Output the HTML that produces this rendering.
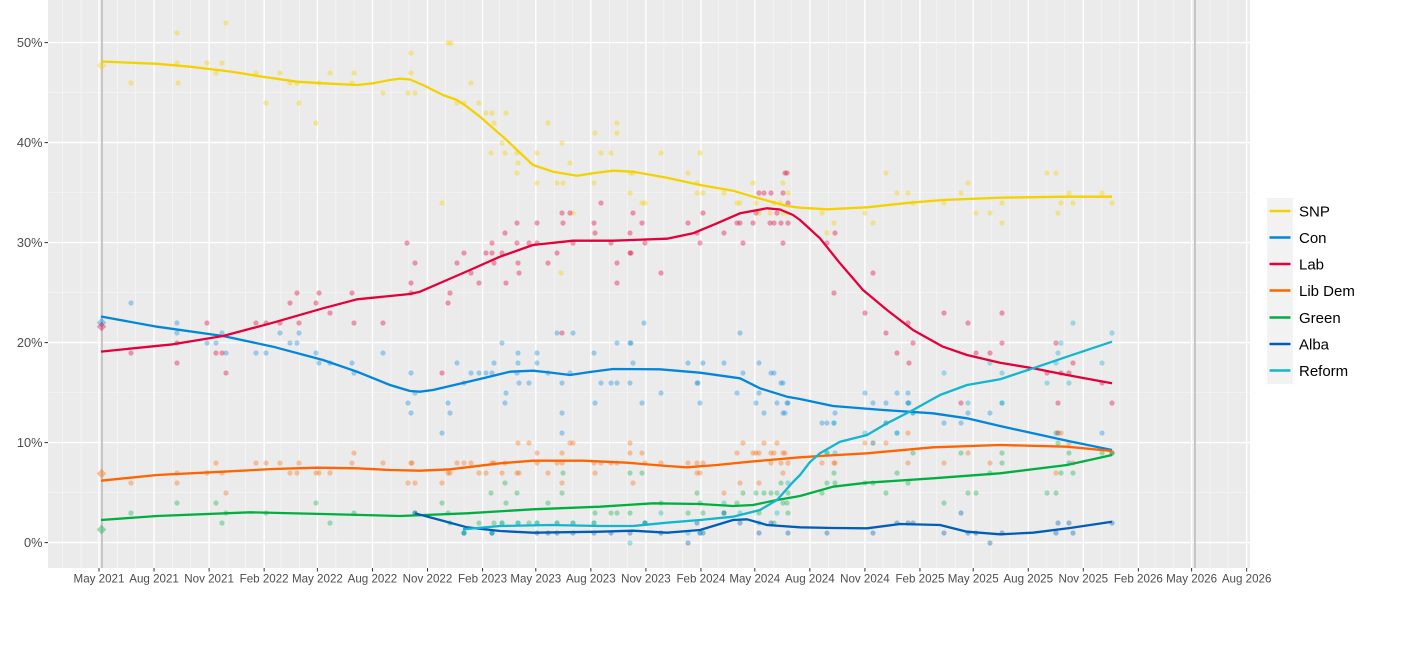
<!DOCTYPE html>
<html><head><meta charset="utf-8"><style>
html,body{margin:0;padding:0;background:#fff;}
svg{display:block;font-family:"Liberation Sans",Arial,sans-serif;}
</style></head><body>
<svg width="1417" height="655" viewBox="0 0 1417 655" xmlns="http://www.w3.org/2000/svg">
<rect x="0" y="0" width="1417" height="655" fill="#fff"/>
<rect x="48" y="0" width="1202" height="568" fill="#EBEBEB"/>
<!-- minor grid -->
<path fill="none" stroke="#F5F5F5" stroke-width="0.8" d="M48 492.6H1250M48 392.6H1250M48 292.6H1250M48 192.6H1250M48 92.6H1250
M62.5 0V568M81.05 0V568M117.55 0V568M135.5 0V568M172.6 0V568M190.55 0V568M227.05 0V568M245.6 0V568M280.9 0V568M299.45 0V568M335.95 0V568M353.9 0V568M391 0V568M408.95 0V568M445.45 0V568M464 0V568M499.3 0V568M517.85 0V568M554.35 0V568M572.3 0V568M609.4 0V568M627.35 0V568M663.85 0V568M682.4 0V568M718.3 0V568M736.85 0V568M773.35 0V568M791.3 0V568M828.4 0V568M846.35 0V568M882.85 0V568M901.4 0V568M936.7 0V568M955.25 0V568M991.75 0V568M1009.7 0V568M1046.8 0V568M1064.75 0V568M1101.25 0V568M1119.8 0V568M1155.1 0V568M1173.65 0V568M1210.15 0V568M1228.1 0V568"/>
<!-- major grid -->
<path fill="none" stroke="#FFFFFF" stroke-width="1.4" d="M48 542.6H1250M48 442.6H1250M48 342.6H1250M48 242.6H1250M48 142.6H1250M48 42.6H1250
M99 0V568M154.05 0V568M209.1 0V568M264.15 0V568M317.4 0V568M372.45 0V568M427.5 0V568M482.55 0V568M535.8 0V568M590.85 0V568M645.9 0V568M700.95 0V568M754.8 0V568M809.85 0V568M864.9 0V568M919.95 0V568M973.2 0V568M1028.25 0V568M1083.3 0V568M1138.35 0V568M1191.6 0V568M1246.65 0V568"/>
<!-- election lines -->
<path stroke="#C6C6C6" stroke-width="2" d="M102 0V568M1195 0V568"/>

<!-- SNP points -->
<g fill="#F4D200" fill-opacity="0.4">
<circle cx="177" cy="33" r="2.6"/><circle cx="226" cy="23" r="2.6"/><circle cx="177" cy="63" r="2.6"/><circle cx="178" cy="83" r="2.6"/><circle cx="131" cy="83" r="2.6"/><circle cx="207" cy="63" r="2.6"/><circle cx="222" cy="63" r="2.6"/><circle cx="216" cy="73" r="2.6"/><circle cx="256" cy="73" r="2.6"/><circle cx="280" cy="73" r="2.6"/><circle cx="266" cy="103" r="2.6"/><circle cx="290" cy="83" r="2.6"/><circle cx="297" cy="83" r="2.6"/><circle cx="299" cy="103" r="2.6"/><circle cx="316" cy="123" r="2.6"/><circle cx="319" cy="83" r="2.6"/><circle cx="330" cy="73" r="2.6"/><circle cx="352" cy="83" r="2.6"/><circle cx="354" cy="73" r="2.6"/><circle cx="383" cy="93" r="2.6"/><circle cx="408" cy="93" r="2.6"/><circle cx="411" cy="73" r="2.6"/><circle cx="411" cy="53" r="2.6"/><circle cx="415" cy="93" r="2.6"/><circle cx="442" cy="203" r="2.6"/><circle cx="448" cy="43" r="2.6"/><circle cx="451" cy="43" r="2.6"/><circle cx="457" cy="103" r="2.6"/><circle cx="464" cy="103" r="2.6"/><circle cx="471" cy="83" r="2.6"/><circle cx="479" cy="103" r="2.6"/><circle cx="486" cy="113" r="2.6"/><circle cx="492" cy="113" r="2.6"/><circle cx="494" cy="123" r="2.6"/><circle cx="506" cy="113" r="2.6"/><circle cx="502" cy="143" r="2.6"/><circle cx="491" cy="153" r="2.6"/><circle cx="505" cy="153" r="2.6"/><circle cx="517" cy="173" r="2.6"/><circle cx="518" cy="163" r="2.6"/><circle cx="517" cy="153" r="2.6"/><circle cx="537" cy="153" r="2.6"/><circle cx="537" cy="183" r="2.6"/><circle cx="548" cy="123" r="2.6"/><circle cx="557" cy="183" r="2.6"/><circle cx="562" cy="143" r="2.6"/><circle cx="563" cy="183" r="2.6"/><circle cx="570" cy="163" r="2.6"/><circle cx="573" cy="213" r="2.6"/><circle cx="561" cy="273" r="2.6"/><circle cx="595" cy="133" r="2.6"/><circle cx="594" cy="183" r="2.6"/><circle cx="601" cy="153" r="2.6"/><circle cx="611" cy="153" r="2.6"/><circle cx="617" cy="133" r="2.6"/><circle cx="617" cy="123" r="2.6"/><circle cx="630" cy="193" r="2.6"/><circle cx="630" cy="173" r="2.6"/><circle cx="633" cy="173" r="2.6"/><circle cx="642" cy="203" r="2.6"/><circle cx="645" cy="203" r="2.6"/><circle cx="661" cy="153" r="2.6"/><circle cx="688" cy="173" r="2.6"/><circle cx="697" cy="183" r="2.6"/><circle cx="697" cy="193" r="2.6"/><circle cx="700" cy="153" r="2.6"/><circle cx="703" cy="193" r="2.6"/><circle cx="724" cy="193" r="2.6"/><circle cx="737" cy="203" r="2.6"/><circle cx="740" cy="203" r="2.6"/><circle cx="753" cy="183" r="2.6"/><circle cx="756" cy="203" r="2.6"/><circle cx="759" cy="213" r="2.6"/><circle cx="770" cy="213" r="2.6"/><circle cx="774" cy="203" r="2.6"/><circle cx="783" cy="183" r="2.6"/><circle cx="780" cy="203" r="2.6"/><circle cx="783" cy="213" r="2.6"/><circle cx="787" cy="213" r="2.6"/><circle cx="788" cy="193" r="2.6"/><circle cx="886" cy="173" r="2.6"/><circle cx="897" cy="193" r="2.6"/><circle cx="908" cy="193" r="2.6"/><circle cx="822" cy="213" r="2.6"/><circle cx="827" cy="233" r="2.6"/><circle cx="834" cy="223" r="2.6"/><circle cx="865" cy="213" r="2.6"/><circle cx="873" cy="223" r="2.6"/><circle cx="913" cy="203" r="2.6"/><circle cx="944" cy="203" r="2.6"/><circle cx="961" cy="193" r="2.6"/><circle cx="968" cy="183" r="2.6"/><circle cx="976" cy="213" r="2.6"/><circle cx="990" cy="213" r="2.6"/><circle cx="1002" cy="203" r="2.6"/><circle cx="1002" cy="223" r="2.6"/><circle cx="1047" cy="173" r="2.6"/><circle cx="1056" cy="173" r="2.6"/><circle cx="1069" cy="193" r="2.6"/><circle cx="1061" cy="203" r="2.6"/><circle cx="1058" cy="213" r="2.6"/><circle cx="1073" cy="203" r="2.6"/><circle cx="1102" cy="193" r="2.6"/><circle cx="1112" cy="203" r="2.6"/>
</g>
<!-- Lab points -->
<g fill="#E4003B" fill-opacity="0.38">
<circle cx="131" cy="353" r="2.6"/><circle cx="177" cy="363" r="2.6"/><circle cx="177" cy="343" r="2.6"/><circle cx="207" cy="323" r="2.6"/><circle cx="216" cy="353" r="2.6"/><circle cx="222" cy="353" r="2.6"/><circle cx="226" cy="373" r="2.6"/><circle cx="256" cy="323" r="2.6"/><circle cx="266" cy="323" r="2.6"/><circle cx="280" cy="323" r="2.6"/><circle cx="290" cy="303" r="2.6"/><circle cx="297" cy="293" r="2.6"/><circle cx="299" cy="323" r="2.6"/><circle cx="316" cy="303" r="2.6"/><circle cx="319" cy="293" r="2.6"/><circle cx="330" cy="313" r="2.6"/><circle cx="352" cy="293" r="2.6"/><circle cx="354" cy="323" r="2.6"/><circle cx="383" cy="323" r="2.6"/><circle cx="411" cy="293" r="2.6"/><circle cx="411" cy="283" r="2.6"/><circle cx="407" cy="243" r="2.6"/><circle cx="415" cy="263" r="2.6"/><circle cx="457" cy="263" r="2.6"/><circle cx="464" cy="253" r="2.6"/><circle cx="471" cy="273" r="2.6"/><circle cx="486" cy="253" r="2.6"/><circle cx="492" cy="243" r="2.6"/><circle cx="492" cy="253" r="2.6"/><circle cx="494" cy="263" r="2.6"/><circle cx="502" cy="253" r="2.6"/><circle cx="505" cy="233" r="2.6"/><circle cx="517" cy="223" r="2.6"/><circle cx="517" cy="243" r="2.6"/><circle cx="518" cy="263" r="2.6"/><circle cx="519" cy="273" r="2.6"/><circle cx="529" cy="243" r="2.6"/><circle cx="537" cy="223" r="2.6"/><circle cx="537" cy="243" r="2.6"/><circle cx="548" cy="263" r="2.6"/><circle cx="557" cy="253" r="2.6"/><circle cx="562" cy="213" r="2.6"/><circle cx="563" cy="223" r="2.6"/><circle cx="570" cy="213" r="2.6"/><circle cx="573" cy="243" r="2.6"/><circle cx="594" cy="223" r="2.6"/><circle cx="595" cy="233" r="2.6"/><circle cx="601" cy="203" r="2.6"/><circle cx="611" cy="243" r="2.6"/><circle cx="617" cy="263" r="2.6"/><circle cx="630" cy="233" r="2.6"/><circle cx="630" cy="253" r="2.6"/><circle cx="631" cy="253" r="2.6"/><circle cx="633" cy="213" r="2.6"/><circle cx="642" cy="223" r="2.6"/><circle cx="645" cy="243" r="2.6"/><circle cx="661" cy="273" r="2.6"/><circle cx="688" cy="223" r="2.6"/><circle cx="697" cy="233" r="2.6"/><circle cx="700" cy="243" r="2.6"/><circle cx="703" cy="213" r="2.6"/><circle cx="724" cy="233" r="2.6"/><circle cx="737" cy="223" r="2.6"/><circle cx="740" cy="223" r="2.6"/><circle cx="743" cy="243" r="2.6"/><circle cx="753" cy="223" r="2.6"/><circle cx="756" cy="213" r="2.6"/><circle cx="759" cy="193" r="2.6"/><circle cx="764" cy="193" r="2.6"/><circle cx="771" cy="193" r="2.6"/><circle cx="770" cy="223" r="2.6"/><circle cx="774" cy="223" r="2.6"/><circle cx="777" cy="213" r="2.6"/><circle cx="781" cy="223" r="2.6"/><circle cx="783" cy="243" r="2.6"/><circle cx="785" cy="173" r="2.6"/><circle cx="787" cy="173" r="2.6"/><circle cx="783" cy="193" r="2.6"/><circle cx="788" cy="203" r="2.6"/><circle cx="788" cy="223" r="2.6"/><circle cx="442" cy="373" r="2.6"/><circle cx="448" cy="303" r="2.6"/><circle cx="450" cy="293" r="2.6"/><circle cx="479" cy="283" r="2.6"/><circle cx="506" cy="283" r="2.6"/><circle cx="562" cy="333" r="2.6"/><circle cx="617" cy="283" r="2.6"/><circle cx="827" cy="243" r="2.6"/><circle cx="835" cy="233" r="2.6"/><circle cx="834" cy="293" r="2.6"/><circle cx="873" cy="273" r="2.6"/><circle cx="865" cy="313" r="2.6"/><circle cx="886" cy="333" r="2.6"/><circle cx="897" cy="353" r="2.6"/><circle cx="908" cy="323" r="2.6"/><circle cx="909" cy="363" r="2.6"/><circle cx="913" cy="343" r="2.6"/><circle cx="944" cy="313" r="2.6"/><circle cx="961" cy="403" r="2.6"/><circle cx="968" cy="323" r="2.6"/><circle cx="976" cy="353" r="2.6"/><circle cx="990" cy="353" r="2.6"/><circle cx="1002" cy="313" r="2.6"/><circle cx="1002" cy="343" r="2.6"/><circle cx="1047" cy="373" r="2.6"/><circle cx="1056" cy="343" r="2.6"/><circle cx="1058" cy="403" r="2.6"/><circle cx="1061" cy="373" r="2.6"/><circle cx="1069" cy="373" r="2.6"/><circle cx="1073" cy="363" r="2.6"/><circle cx="1102" cy="383" r="2.6"/><circle cx="1112" cy="403" r="2.6"/>
</g>
<!-- Con points -->
<g fill="#0087DC" fill-opacity="0.35">
<circle cx="131" cy="303" r="2.6"/><circle cx="177" cy="323" r="2.6"/><circle cx="177" cy="333" r="2.6"/><circle cx="207" cy="343" r="2.6"/><circle cx="216" cy="343" r="2.6"/><circle cx="222" cy="333" r="2.6"/><circle cx="226" cy="353" r="2.6"/><circle cx="256" cy="353" r="2.6"/><circle cx="266" cy="353" r="2.6"/><circle cx="280" cy="333" r="2.6"/><circle cx="290" cy="343" r="2.6"/><circle cx="297" cy="343" r="2.6"/><circle cx="299" cy="333" r="2.6"/><circle cx="316" cy="353" r="2.6"/><circle cx="319" cy="363" r="2.6"/><circle cx="330" cy="363" r="2.6"/><circle cx="352" cy="363" r="2.6"/><circle cx="354" cy="373" r="2.6"/><circle cx="383" cy="353" r="2.6"/><circle cx="408" cy="403" r="2.6"/><circle cx="411" cy="413" r="2.6"/><circle cx="411" cy="373" r="2.6"/><circle cx="415" cy="393" r="2.6"/><circle cx="442" cy="433" r="2.6"/><circle cx="448" cy="403" r="2.6"/><circle cx="450" cy="413" r="2.6"/><circle cx="457" cy="363" r="2.6"/><circle cx="464" cy="383" r="2.6"/><circle cx="471" cy="373" r="2.6"/><circle cx="479" cy="373" r="2.6"/><circle cx="486" cy="373" r="2.6"/><circle cx="492" cy="373" r="2.6"/><circle cx="494" cy="363" r="2.6"/><circle cx="502" cy="343" r="2.6"/><circle cx="505" cy="403" r="2.6"/><circle cx="506" cy="393" r="2.6"/><circle cx="517" cy="373" r="2.6"/><circle cx="518" cy="353" r="2.6"/><circle cx="518" cy="363" r="2.6"/><circle cx="519" cy="383" r="2.6"/><circle cx="529" cy="383" r="2.6"/><circle cx="537" cy="353" r="2.6"/><circle cx="537" cy="363" r="2.6"/><circle cx="548" cy="373" r="2.6"/><circle cx="557" cy="333" r="2.6"/><circle cx="562" cy="383" r="2.6"/><circle cx="562" cy="413" r="2.6"/><circle cx="562" cy="433" r="2.6"/><circle cx="570" cy="373" r="2.6"/><circle cx="573" cy="333" r="2.6"/><circle cx="594" cy="353" r="2.6"/><circle cx="595" cy="403" r="2.6"/><circle cx="601" cy="383" r="2.6"/><circle cx="611" cy="383" r="2.6"/><circle cx="617" cy="383" r="2.6"/><circle cx="617" cy="343" r="2.6"/><circle cx="630" cy="343" r="2.6"/><circle cx="631" cy="343" r="2.6"/><circle cx="630" cy="383" r="2.6"/><circle cx="633" cy="363" r="2.6"/><circle cx="642" cy="403" r="2.6"/><circle cx="644" cy="323" r="2.6"/><circle cx="661" cy="393" r="2.6"/><circle cx="688" cy="363" r="2.6"/><circle cx="697" cy="383" r="2.6"/><circle cx="698" cy="383" r="2.6"/><circle cx="700" cy="403" r="2.6"/><circle cx="703" cy="363" r="2.6"/><circle cx="724" cy="363" r="2.6"/><circle cx="737" cy="393" r="2.6"/><circle cx="740" cy="333" r="2.6"/><circle cx="743" cy="373" r="2.6"/><circle cx="756" cy="403" r="2.6"/><circle cx="759" cy="363" r="2.6"/><circle cx="759" cy="393" r="2.6"/><circle cx="764" cy="413" r="2.6"/><circle cx="771" cy="373" r="2.6"/><circle cx="774" cy="373" r="2.6"/><circle cx="777" cy="403" r="2.6"/><circle cx="781" cy="383" r="2.6"/><circle cx="783" cy="383" r="2.6"/><circle cx="783" cy="413" r="2.6"/><circle cx="785" cy="413" r="2.6"/><circle cx="787" cy="403" r="2.6"/><circle cx="788" cy="403" r="2.6"/><circle cx="822" cy="423" r="2.6"/><circle cx="827" cy="423" r="2.6"/><circle cx="834" cy="423" r="2.6"/><circle cx="835" cy="413" r="2.6"/><circle cx="865" cy="393" r="2.6"/><circle cx="873" cy="403" r="2.6"/><circle cx="886" cy="403" r="2.6"/><circle cx="886" cy="423" r="2.6"/><circle cx="897" cy="393" r="2.6"/><circle cx="897" cy="433" r="2.6"/><circle cx="908" cy="393" r="2.6"/><circle cx="908" cy="403" r="2.6"/><circle cx="909" cy="403" r="2.6"/><circle cx="913" cy="413" r="2.6"/><circle cx="944" cy="423" r="2.6"/><circle cx="961" cy="423" r="2.6"/><circle cx="968" cy="413" r="2.6"/><circle cx="990" cy="413" r="2.6"/><circle cx="1002" cy="403" r="2.6"/><circle cx="1056" cy="433" r="2.6"/><circle cx="1058" cy="433" r="2.6"/><circle cx="1069" cy="463" r="2.6"/><circle cx="1102" cy="433" r="2.6"/><circle cx="1112" cy="453" r="2.6"/>
</g>
<!-- Lib Dem points -->
<g fill="#FF6400" fill-opacity="0.35">
<circle cx="131" cy="483" r="2.6"/><circle cx="177" cy="473" r="2.6"/><circle cx="177" cy="483" r="2.6"/><circle cx="207" cy="473" r="2.6"/><circle cx="216" cy="463" r="2.6"/><circle cx="222" cy="473" r="2.6"/><circle cx="226" cy="493" r="2.6"/><circle cx="256" cy="463" r="2.6"/><circle cx="266" cy="463" r="2.6"/><circle cx="280" cy="463" r="2.6"/><circle cx="290" cy="473" r="2.6"/><circle cx="297" cy="473" r="2.6"/><circle cx="299" cy="463" r="2.6"/><circle cx="316" cy="473" r="2.6"/><circle cx="319" cy="473" r="2.6"/><circle cx="330" cy="473" r="2.6"/><circle cx="352" cy="463" r="2.6"/><circle cx="354" cy="453" r="2.6"/><circle cx="383" cy="463" r="2.6"/><circle cx="408" cy="483" r="2.6"/><circle cx="411" cy="463" r="2.6"/><circle cx="412" cy="463" r="2.6"/><circle cx="415" cy="483" r="2.6"/><circle cx="442" cy="483" r="2.6"/><circle cx="448" cy="473" r="2.6"/><circle cx="450" cy="473" r="2.6"/><circle cx="457" cy="463" r="2.6"/><circle cx="464" cy="463" r="2.6"/><circle cx="471" cy="463" r="2.6"/><circle cx="479" cy="473" r="2.6"/><circle cx="486" cy="473" r="2.6"/><circle cx="492" cy="463" r="2.6"/><circle cx="494" cy="463" r="2.6"/><circle cx="502" cy="473" r="2.6"/><circle cx="505" cy="463" r="2.6"/><circle cx="517" cy="473" r="2.6"/><circle cx="518" cy="443" r="2.6"/><circle cx="519" cy="473" r="2.6"/><circle cx="529" cy="443" r="2.6"/><circle cx="537" cy="463" r="2.6"/><circle cx="537" cy="453" r="2.6"/><circle cx="548" cy="473" r="2.6"/><circle cx="557" cy="463" r="2.6"/><circle cx="562" cy="463" r="2.6"/><circle cx="562" cy="453" r="2.6"/><circle cx="562" cy="483" r="2.6"/><circle cx="570" cy="443" r="2.6"/><circle cx="573" cy="443" r="2.6"/><circle cx="594" cy="463" r="2.6"/><circle cx="595" cy="473" r="2.6"/><circle cx="601" cy="463" r="2.6"/><circle cx="611" cy="463" r="2.6"/><circle cx="617" cy="463" r="2.6"/><circle cx="630" cy="443" r="2.6"/><circle cx="630" cy="453" r="2.6"/><circle cx="633" cy="483" r="2.6"/><circle cx="642" cy="453" r="2.6"/><circle cx="645" cy="463" r="2.6"/><circle cx="661" cy="463" r="2.6"/><circle cx="688" cy="463" r="2.6"/><circle cx="697" cy="463" r="2.6"/><circle cx="697" cy="473" r="2.6"/><circle cx="700" cy="473" r="2.6"/><circle cx="703" cy="463" r="2.6"/><circle cx="724" cy="493" r="2.6"/><circle cx="737" cy="453" r="2.6"/><circle cx="740" cy="483" r="2.6"/><circle cx="743" cy="443" r="2.6"/><circle cx="753" cy="453" r="2.6"/><circle cx="756" cy="453" r="2.6"/><circle cx="759" cy="453" r="2.6"/><circle cx="759" cy="483" r="2.6"/><circle cx="764" cy="443" r="2.6"/><circle cx="771" cy="453" r="2.6"/><circle cx="771" cy="463" r="2.6"/><circle cx="774" cy="453" r="2.6"/><circle cx="777" cy="443" r="2.6"/><circle cx="781" cy="463" r="2.6"/><circle cx="783" cy="453" r="2.6"/><circle cx="783" cy="473" r="2.6"/><circle cx="785" cy="453" r="2.6"/><circle cx="788" cy="463" r="2.6"/><circle cx="822" cy="463" r="2.6"/><circle cx="834" cy="463" r="2.6"/><circle cx="835" cy="463" r="2.6"/><circle cx="865" cy="443" r="2.6"/><circle cx="873" cy="443" r="2.6"/><circle cx="886" cy="443" r="2.6"/><circle cx="908" cy="433" r="2.6"/><circle cx="908" cy="463" r="2.6"/><circle cx="944" cy="463" r="2.6"/><circle cx="968" cy="453" r="2.6"/><circle cx="990" cy="463" r="2.6"/><circle cx="1056" cy="473" r="2.6"/><circle cx="1058" cy="433" r="2.6"/><circle cx="1061" cy="433" r="2.6"/><circle cx="1069" cy="443" r="2.6"/><circle cx="1073" cy="463" r="2.6"/><circle cx="1112" cy="453" r="2.6"/>
</g>
<!-- Green points -->
<g fill="#00AF41" fill-opacity="0.35">
<circle cx="131" cy="513" r="2.6"/><circle cx="177" cy="503" r="2.6"/><circle cx="216" cy="503" r="2.6"/><circle cx="222" cy="523" r="2.6"/><circle cx="226" cy="513" r="2.6"/><circle cx="266" cy="513" r="2.6"/><circle cx="316" cy="503" r="2.6"/><circle cx="330" cy="523" r="2.6"/><circle cx="354" cy="513" r="2.6"/><circle cx="415" cy="513" r="2.6"/><circle cx="442" cy="503" r="2.6"/><circle cx="448" cy="513" r="2.6"/><circle cx="450" cy="523" r="2.6"/><circle cx="464" cy="533" r="2.6"/><circle cx="479" cy="523" r="2.6"/><circle cx="491" cy="493" r="2.6"/><circle cx="492" cy="533" r="2.6"/><circle cx="494" cy="523" r="2.6"/><circle cx="502" cy="523" r="2.6"/><circle cx="505" cy="483" r="2.6"/><circle cx="506" cy="503" r="2.6"/><circle cx="517" cy="493" r="2.6"/><circle cx="518" cy="523" r="2.6"/><circle cx="529" cy="523" r="2.6"/><circle cx="537" cy="523" r="2.6"/><circle cx="548" cy="503" r="2.6"/><circle cx="557" cy="523" r="2.6"/><circle cx="562" cy="493" r="2.6"/><circle cx="563" cy="473" r="2.6"/><circle cx="573" cy="523" r="2.6"/><circle cx="594" cy="523" r="2.6"/><circle cx="595" cy="513" r="2.6"/><circle cx="611" cy="513" r="2.6"/><circle cx="617" cy="513" r="2.6"/><circle cx="630" cy="473" r="2.6"/><circle cx="630" cy="513" r="2.6"/><circle cx="642" cy="473" r="2.6"/><circle cx="645" cy="523" r="2.6"/><circle cx="661" cy="503" r="2.6"/><circle cx="688" cy="513" r="2.6"/><circle cx="697" cy="493" r="2.6"/><circle cx="700" cy="503" r="2.6"/><circle cx="703" cy="513" r="2.6"/><circle cx="724" cy="513" r="2.6"/><circle cx="737" cy="503" r="2.6"/><circle cx="743" cy="493" r="2.6"/><circle cx="756" cy="493" r="2.6"/><circle cx="759" cy="513" r="2.6"/><circle cx="764" cy="493" r="2.6"/><circle cx="771" cy="493" r="2.6"/><circle cx="774" cy="523" r="2.6"/><circle cx="777" cy="493" r="2.6"/><circle cx="781" cy="483" r="2.6"/><circle cx="783" cy="503" r="2.6"/><circle cx="787" cy="503" r="2.6"/><circle cx="788" cy="513" r="2.6"/><circle cx="788" cy="493" r="2.6"/><circle cx="822" cy="493" r="2.6"/><circle cx="827" cy="483" r="2.6"/><circle cx="827" cy="453" r="2.6"/><circle cx="834" cy="473" r="2.6"/><circle cx="835" cy="483" r="2.6"/><circle cx="865" cy="483" r="2.6"/><circle cx="873" cy="483" r="2.6"/><circle cx="886" cy="493" r="2.6"/><circle cx="897" cy="473" r="2.6"/><circle cx="908" cy="483" r="2.6"/><circle cx="913" cy="453" r="2.6"/><circle cx="944" cy="503" r="2.6"/><circle cx="961" cy="453" r="2.6"/><circle cx="968" cy="493" r="2.6"/><circle cx="976" cy="493" r="2.6"/><circle cx="990" cy="473" r="2.6"/><circle cx="1002" cy="453" r="2.6"/><circle cx="1002" cy="463" r="2.6"/><circle cx="1047" cy="493" r="2.6"/><circle cx="1056" cy="493" r="2.6"/><circle cx="1058" cy="443" r="2.6"/><circle cx="1061" cy="473" r="2.6"/><circle cx="1069" cy="453" r="2.6"/><circle cx="1073" cy="473" r="2.6"/><circle cx="1102" cy="453" r="2.6"/><circle cx="1112" cy="453" r="2.6"/>
</g>
<!-- Alba points -->
<g fill="#005EB8" fill-opacity="0.38">
<circle cx="415" cy="513" r="2.6"/><circle cx="464" cy="533" r="2.6"/><circle cx="492" cy="533" r="2.6"/><circle cx="537" cy="533" r="2.6"/><circle cx="548" cy="533" r="2.6"/><circle cx="557" cy="533" r="2.6"/><circle cx="573" cy="533" r="2.6"/><circle cx="594" cy="533" r="2.6"/><circle cx="611" cy="533" r="2.6"/><circle cx="630" cy="533" r="2.6"/><circle cx="645" cy="523" r="2.6"/><circle cx="661" cy="533" r="2.6"/><circle cx="688" cy="543" r="2.6"/><circle cx="697" cy="523" r="2.6"/><circle cx="700" cy="533" r="2.6"/><circle cx="703" cy="533" r="2.6"/><circle cx="724" cy="513" r="2.6"/><circle cx="740" cy="523" r="2.6"/><circle cx="759" cy="533" r="2.6"/><circle cx="771" cy="523" r="2.6"/><circle cx="788" cy="533" r="2.6"/><circle cx="827" cy="533" r="2.6"/><circle cx="873" cy="533" r="2.6"/><circle cx="897" cy="523" r="2.6"/><circle cx="908" cy="523" r="2.6"/><circle cx="913" cy="523" r="2.6"/><circle cx="944" cy="533" r="2.6"/><circle cx="961" cy="513" r="2.6"/><circle cx="968" cy="533" r="2.6"/><circle cx="976" cy="533" r="2.6"/><circle cx="990" cy="543" r="2.6"/><circle cx="1002" cy="533" r="2.6"/><circle cx="1056" cy="533" r="2.6"/><circle cx="1058" cy="523" r="2.6"/><circle cx="1069" cy="523" r="2.6"/><circle cx="1073" cy="533" r="2.6"/><circle cx="1112" cy="523" r="2.6"/>
</g>
<!-- Reform points -->
<g fill="#12B6CF" fill-opacity="0.38">
<circle cx="464" cy="533" r="2.6"/><circle cx="492" cy="533" r="2.6"/><circle cx="502" cy="523" r="2.6"/><circle cx="518" cy="523" r="2.6"/><circle cx="537" cy="523" r="2.6"/><circle cx="557" cy="523" r="2.6"/><circle cx="573" cy="523" r="2.6"/><circle cx="594" cy="523" r="2.6"/><circle cx="630" cy="543" r="2.6"/><circle cx="645" cy="523" r="2.6"/><circle cx="661" cy="513" r="2.6"/><circle cx="688" cy="533" r="2.6"/><circle cx="700" cy="533" r="2.6"/><circle cx="724" cy="503" r="2.6"/><circle cx="740" cy="513" r="2.6"/><circle cx="759" cy="523" r="2.6"/><circle cx="777" cy="513" r="2.6"/><circle cx="788" cy="483" r="2.6"/><circle cx="827" cy="453" r="2.6"/><circle cx="835" cy="453" r="2.6"/><circle cx="834" cy="423" r="2.6"/><circle cx="865" cy="433" r="2.6"/><circle cx="873" cy="443" r="2.6"/><circle cx="886" cy="423" r="2.6"/><circle cx="897" cy="433" r="2.6"/><circle cx="908" cy="403" r="2.6"/><circle cx="913" cy="413" r="2.6"/><circle cx="944" cy="373" r="2.6"/><circle cx="968" cy="403" r="2.6"/><circle cx="990" cy="363" r="2.6"/><circle cx="1002" cy="373" r="2.6"/><circle cx="1002" cy="403" r="2.6"/><circle cx="1047" cy="383" r="2.6"/><circle cx="1056" cy="363" r="2.6"/><circle cx="1058" cy="353" r="2.6"/><circle cx="1061" cy="343" r="2.6"/><circle cx="1069" cy="383" r="2.6"/><circle cx="1073" cy="323" r="2.6"/><circle cx="1102" cy="363" r="2.6"/><circle cx="1112" cy="333" r="2.6"/>
</g>
<!-- election diamonds -->
<g fill-opacity="0.4">
<path d="M101.5 60.8 L106.3 65.6 L101.5 70.4 L96.7 65.6Z" fill="#F4D200"/>
<path d="M101.5 317.8 L106.3 322.6 L101.5 327.4 L96.7 322.6Z" fill="#0087DC"/>
<path d="M101.5 321.8 L106.3 326.6 L101.5 331.4 L96.7 326.6Z" fill="#E4003B"/>
<path d="M101.5 468.8 L106.3 473.6 L101.5 478.4 L96.7 473.6Z" fill="#FF6400"/>
<path d="M101.5 524.8 L106.3 529.6 L101.5 534.4 L96.7 529.6Z" fill="#00AF41"/>
</g>
<!-- smoothed lines -->
<g fill="none" stroke-width="2.3" stroke-linejoin="round" stroke-linecap="butt">
<polyline stroke="#F4D200" points="101,61.5 157,63.8 190,66.7 230,71.5 263,76.7 297,81.7 323,83.3 357,85 373,83.3 390,80 400,78.6 410,79.5 423,85 443,95 457,100 467,106.7 480,116.7 497,131.7 503,136.7 517,150 533,165 553,171.7 577,175.7 593,173.3 613,170.7 633,171.7 667,177.7 700,185 733,190.7 753,196.7 787,206 800,207.7 827,209.3 867,207.3 910,202.7 943,200 1000,197.7 1067,196.7 1112,196.7"/>
<polyline stroke="#0087DC" points="101,316.5 157,326.7 223,336 273,346.7 323,360 357,371.7 390,385 410,391 420,391.7 433,390 450,386 483,378.3 510,371.7 533,370.7 550,372.5 570,375 590,372 613,369 660,369.3 700,372.7 740,378.3 760,388.3 787,396.7 800,399 820,403.3 833,406 883,410 933,413.3 967,418.3 1000,426 1033,433.3 1067,440.7 1112,450"/>
<polyline stroke="#E4003B" points="101,351.6 173,344.3 223,336 273,322.7 323,308.3 357,299.3 390,296 410,294 420,291.7 447,280 470,270 500,256.7 533,245 573,240.7 613,240.7 667,238.7 693,233.3 717,223.3 740,213.3 767,208.3 780,209.5 793,215 800,220 820,238.3 840,263.3 863,290 887,310 913,330 943,346.7 967,355 1000,362.7 1033,368.3 1067,375 1112,383.3"/>
<polyline stroke="#FF6400" points="101,480.7 157,475 223,471.7 273,469 317,467.7 357,468.3 390,470 420,470.7 450,469.3 500,463.3 533,460.7 583,460.7 627,462.7 667,466 687,467.3 717,465 750,461.7 800,457.3 820,456 867,453.3 933,447.3 1000,445 1067,446.7 1112,451"/>
<polyline stroke="#00AF41" points="101,520 157,516 250,512.3 323,514 400,516 467,513.3 533,509.3 600,506.7 653,503.3 700,504 733,506 753,505 777,500 800,496 833,486.7 867,482.7 933,478.3 1000,473.3 1067,465 1112,455"/>
<polyline stroke="#005EB8" points="415,513.3 440,520 467,527.3 500,531 533,532.7 600,531.7 633,530.7 667,532.7 700,530 733,520 747,519.3 767,525 800,527.3 833,528 867,528.3 900,524 940,525 967,531.7 1000,534.3 1033,532.7 1070,528 1112,521.7"/>
<polyline stroke="#12B6CF" points="463,529.3 500,526 550,525 600,526 633,526 667,522.7 700,520 733,516.7 760,510 777,500 793,482 800,475 810,462 820,453.3 840,441.7 867,435 887,423.3 913,410 940,395 967,385 1000,379.3 1033,368.3 1067,356.7 1112,341.7"/>
</g>
<!-- axis ticks -->
<path stroke="#333333" stroke-width="1" fill="none" d="M44.5 542.6H48M44.5 442.6H48M44.5 342.6H48M44.5 242.6H48M44.5 142.6H48M44.5 42.6H48
M99 568V571.5M154.05 568V571.5M209.1 568V571.5M264.15 568V571.5M317.4 568V571.5M372.45 568V571.5M427.5 568V571.5M482.55 568V571.5M535.8 568V571.5M590.85 568V571.5M645.9 568V571.5M700.95 568V571.5M754.8 568V571.5M809.85 568V571.5M864.9 568V571.5M919.95 568V571.5M973.2 568V571.5M1028.25 568V571.5M1083.3 568V571.5M1138.35 568V571.5M1191.6 568V571.5M1246.65 568V571.5"/>
<!-- y labels -->
<g font-size="12.8" fill="#4D4D4D" text-anchor="end">
<text x="42.5" y="547.2">0%</text>
<text x="42.5" y="447.2">10%</text>
<text x="42.5" y="347.2">20%</text>
<text x="42.5" y="247.2">30%</text>
<text x="42.5" y="147.2">40%</text>
<text x="42.5" y="47.2">50%</text>
</g>
<!-- x labels -->
<g font-size="11.6" fill="#4D4D4D" text-anchor="middle">
<text x="99" y="582.5">May 2021</text>
<text x="154.05" y="582.5">Aug 2021</text>
<text x="209.1" y="582.5">Nov 2021</text>
<text x="264.15" y="582.5">Feb 2022</text>
<text x="317.4" y="582.5">May 2022</text>
<text x="372.45" y="582.5">Aug 2022</text>
<text x="427.5" y="582.5">Nov 2022</text>
<text x="482.55" y="582.5">Feb 2023</text>
<text x="535.8" y="582.5">May 2023</text>
<text x="590.85" y="582.5">Aug 2023</text>
<text x="645.9" y="582.5">Nov 2023</text>
<text x="700.95" y="582.5">Feb 2024</text>
<text x="754.8" y="582.5">May 2024</text>
<text x="809.85" y="582.5">Aug 2024</text>
<text x="864.9" y="582.5">Nov 2024</text>
<text x="919.95" y="582.5">Feb 2025</text>
<text x="973.2" y="582.5">May 2025</text>
<text x="1028.25" y="582.5">Aug 2025</text>
<text x="1083.3" y="582.5">Nov 2025</text>
<text x="1138.35" y="582.5">Feb 2026</text>
<text x="1191.6" y="582.5">May 2026</text>
<text x="1246.65" y="582.5">Aug 2026</text>
</g>
<!-- legend -->
<rect x="1267" y="198" width="26" height="186" fill="#F2F2F2"/>
<g stroke-width="2.5">
<line x1="1269.5" x2="1290.5" y1="211" y2="211" stroke="#F4D200"/>
<line x1="1269.5" x2="1290.5" y1="237.5" y2="237.5" stroke="#0087DC"/>
<line x1="1269.5" x2="1290.5" y1="264" y2="264" stroke="#E4003B"/>
<line x1="1269.5" x2="1290.5" y1="290.5" y2="290.5" stroke="#FF6400"/>
<line x1="1269.5" x2="1290.5" y1="317.5" y2="317.5" stroke="#00AF41"/>
<line x1="1269.5" x2="1290.5" y1="344" y2="344" stroke="#005EB8"/>
<line x1="1269.5" x2="1290.5" y1="370.5" y2="370.5" stroke="#12B6CF"/>
</g>
<g font-size="15" fill="#000">
<text x="1299" y="216.5">SNP</text>
<text x="1299" y="243">Con</text>
<text x="1299" y="269.5">Lab</text>
<text x="1299" y="296">Lib Dem</text>
<text x="1299" y="323">Green</text>
<text x="1299" y="349.5">Alba</text>
<text x="1299" y="376">Reform</text>
</g>
</svg>
</body></html>
